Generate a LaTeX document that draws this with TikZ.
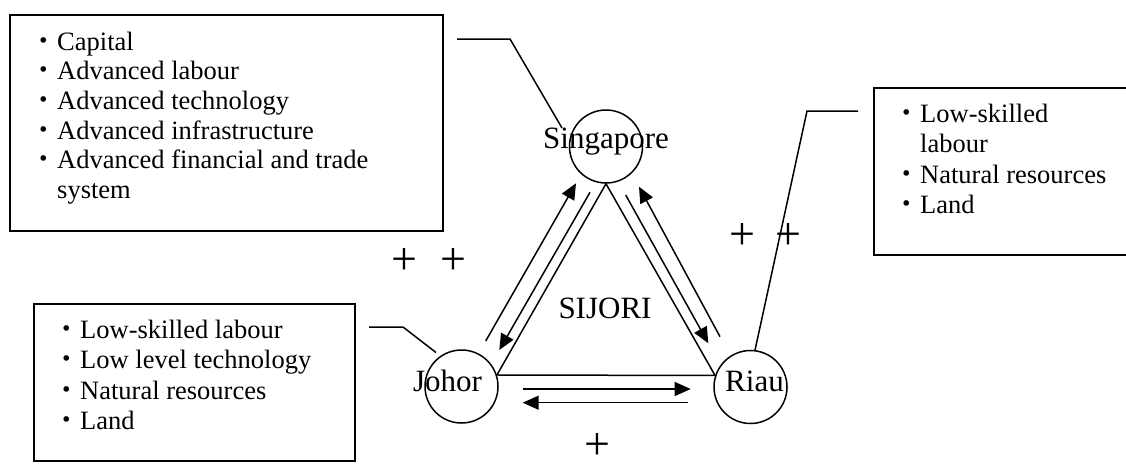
\documentclass[tikz,border=0pt]{standalone}
\usepackage{fontspec}
\setmainfont{Liberation Serif}
\newfontfamily\cjk{Noto Sans CJK JP}
\usetikzlibrary{arrows.meta}
\newcommand\itemdot{\makebox[26.5pt]{\cjk ・}}
\begin{document}
\begin{tikzpicture}[x=1pt,y=-1pt,
  ln/.style={line width=1.5pt},
  box/.style={draw, line width=1.5pt, inner sep=0pt, anchor=north west},
  item/.style={anchor=base west, inner sep=0pt, font=\fontsize{26.5pt}{30.5pt}\selectfont},
  circ/.style={draw, circle, line width=1.5pt, minimum size=73pt, inner sep=0pt},
  lbl/.style={anchor=base, inner sep=0pt, font=\fontsize{31pt}{36pt}\selectfont},
  pl/.style={inner sep=0pt, font=\fontsize{46pt}{50pt}\selectfont},
  arr/.style={line width=1.5pt, -{Triangle[length=16pt,width=14pt]}}
]
\useasboundingbox (0,0) rectangle (1126,463);

% boxes
\node[box, minimum width=433pt, minimum height=216pt] (tlbox) at (9,14) {};
\node[box, minimum width=321pt, minimum height=157pt] (blbox) at (33,303) {};
\node[box, minimum width=270pt, minimum height=167pt] (rbox) at (873,87) {};

% top-left text
\node[item] (t1) at (30.5,50) {\itemdot Capital};
\node[item] (t2) at (30.5,79.7) {\itemdot Advanced labour};
\node[item] (t3) at (30.5,109.4) {\itemdot Advanced technology};
\node[item] (t4) at (30.5,139.1) {\itemdot Advanced infrastructure};
\node[item] (t5) at (30.5,168.8) {\itemdot Advanced financial and trade};
\node[item] (t6) at (57,198.5) {system};

% bottom-left text
\node[item] (b1) at (53.5,338) {\itemdot Low-skilled labour};
\node[item] (b2) at (53.5,368.5) {\itemdot Low level technology};
\node[item] (b3) at (53.5,399) {\itemdot Natural resources};
\node[item] (b4) at (53.5,429.5) {\itemdot Land};

% right text
\node[item] (r1) at (893.5,122) {\itemdot Low-skilled};
\node[item] (r2) at (920,152.5) {labour};
\node[item] (r3) at (893.5,183) {\itemdot Natural resources};
\node[item] (r4) at (893.5,213.5) {\itemdot Land};

% circles
\node[circ] (sg) at (606,146.5) {};
\node[circ] (jh) at (461.5,386.5) {};
\node[circ] (ri) at (750.5,387) {};
\node[lbl] (sgl) at (606,148) {Singapore};
\node[lbl] (jhl) at (447.5,391) {Johor};
\node[lbl] (ril) at (754.5,391) {Riau};
\node[lbl] (sij) at (605,318) {SIJORI};

% triangle
\draw[ln, line join=miter] (sg.south) -- (jh.18) -- (ri.162) -- cycle;

% arrows
\coordinate (a1s) at (485.7,341);   \coordinate (a1e) at (576,183.3);
\coordinate (a2s) at (590,192.3);   \coordinate (a2e) at (499.3,350);
\coordinate (a3s) at (625.7,195);   \coordinate (a3e) at (708.3,343.3);
\coordinate (a4s) at (720,336.7);   \coordinate (a4e) at (639,186.7);
\coordinate (b1s) at (523.3,389);   \coordinate (b1e) at (690.7,389);
\coordinate (b2s) at (688.3,402.7); \coordinate (b2e) at (522.7,402.7);
\draw[arr] (a1s) -- (a1e);
\draw[arr] (a2s) -- (a2e);
\draw[arr] (a3s) -- (a3e);
\draw[arr] (a4s) -- (a4e);
\draw[arr] (b1s) -- (b1e);
\draw[arr] (b2s) -- (b2e);

% callout lines
\coordinate (c1a) at (457,39);  \coordinate (c1b) at (510,39);  \coordinate (c1c) at (562,128);
\coordinate (c2a) at (369,327); \coordinate (c2b) at (403,327); \coordinate (c2c) at (436,352.5);
\coordinate (c3a) at (858,111); \coordinate (c3b) at (807,111);
\draw[ln] (c1a) -- (c1b) -- (c1c);
\draw[ln] (c2a) -- (c2b) -- (c2c);
\draw[ln] (c3a) -- (c3b) -- (ri.83);

% plus signs
\node[pl] (p1) at (404,262) {+};
\node[pl] (p2) at (453,262) {+};
\node[pl] (p3) at (742,237) {+};
\node[pl] (p4) at (788,237) {+};
\node[pl] (p5) at (597,446) {+};
\end{tikzpicture}
\end{document}
